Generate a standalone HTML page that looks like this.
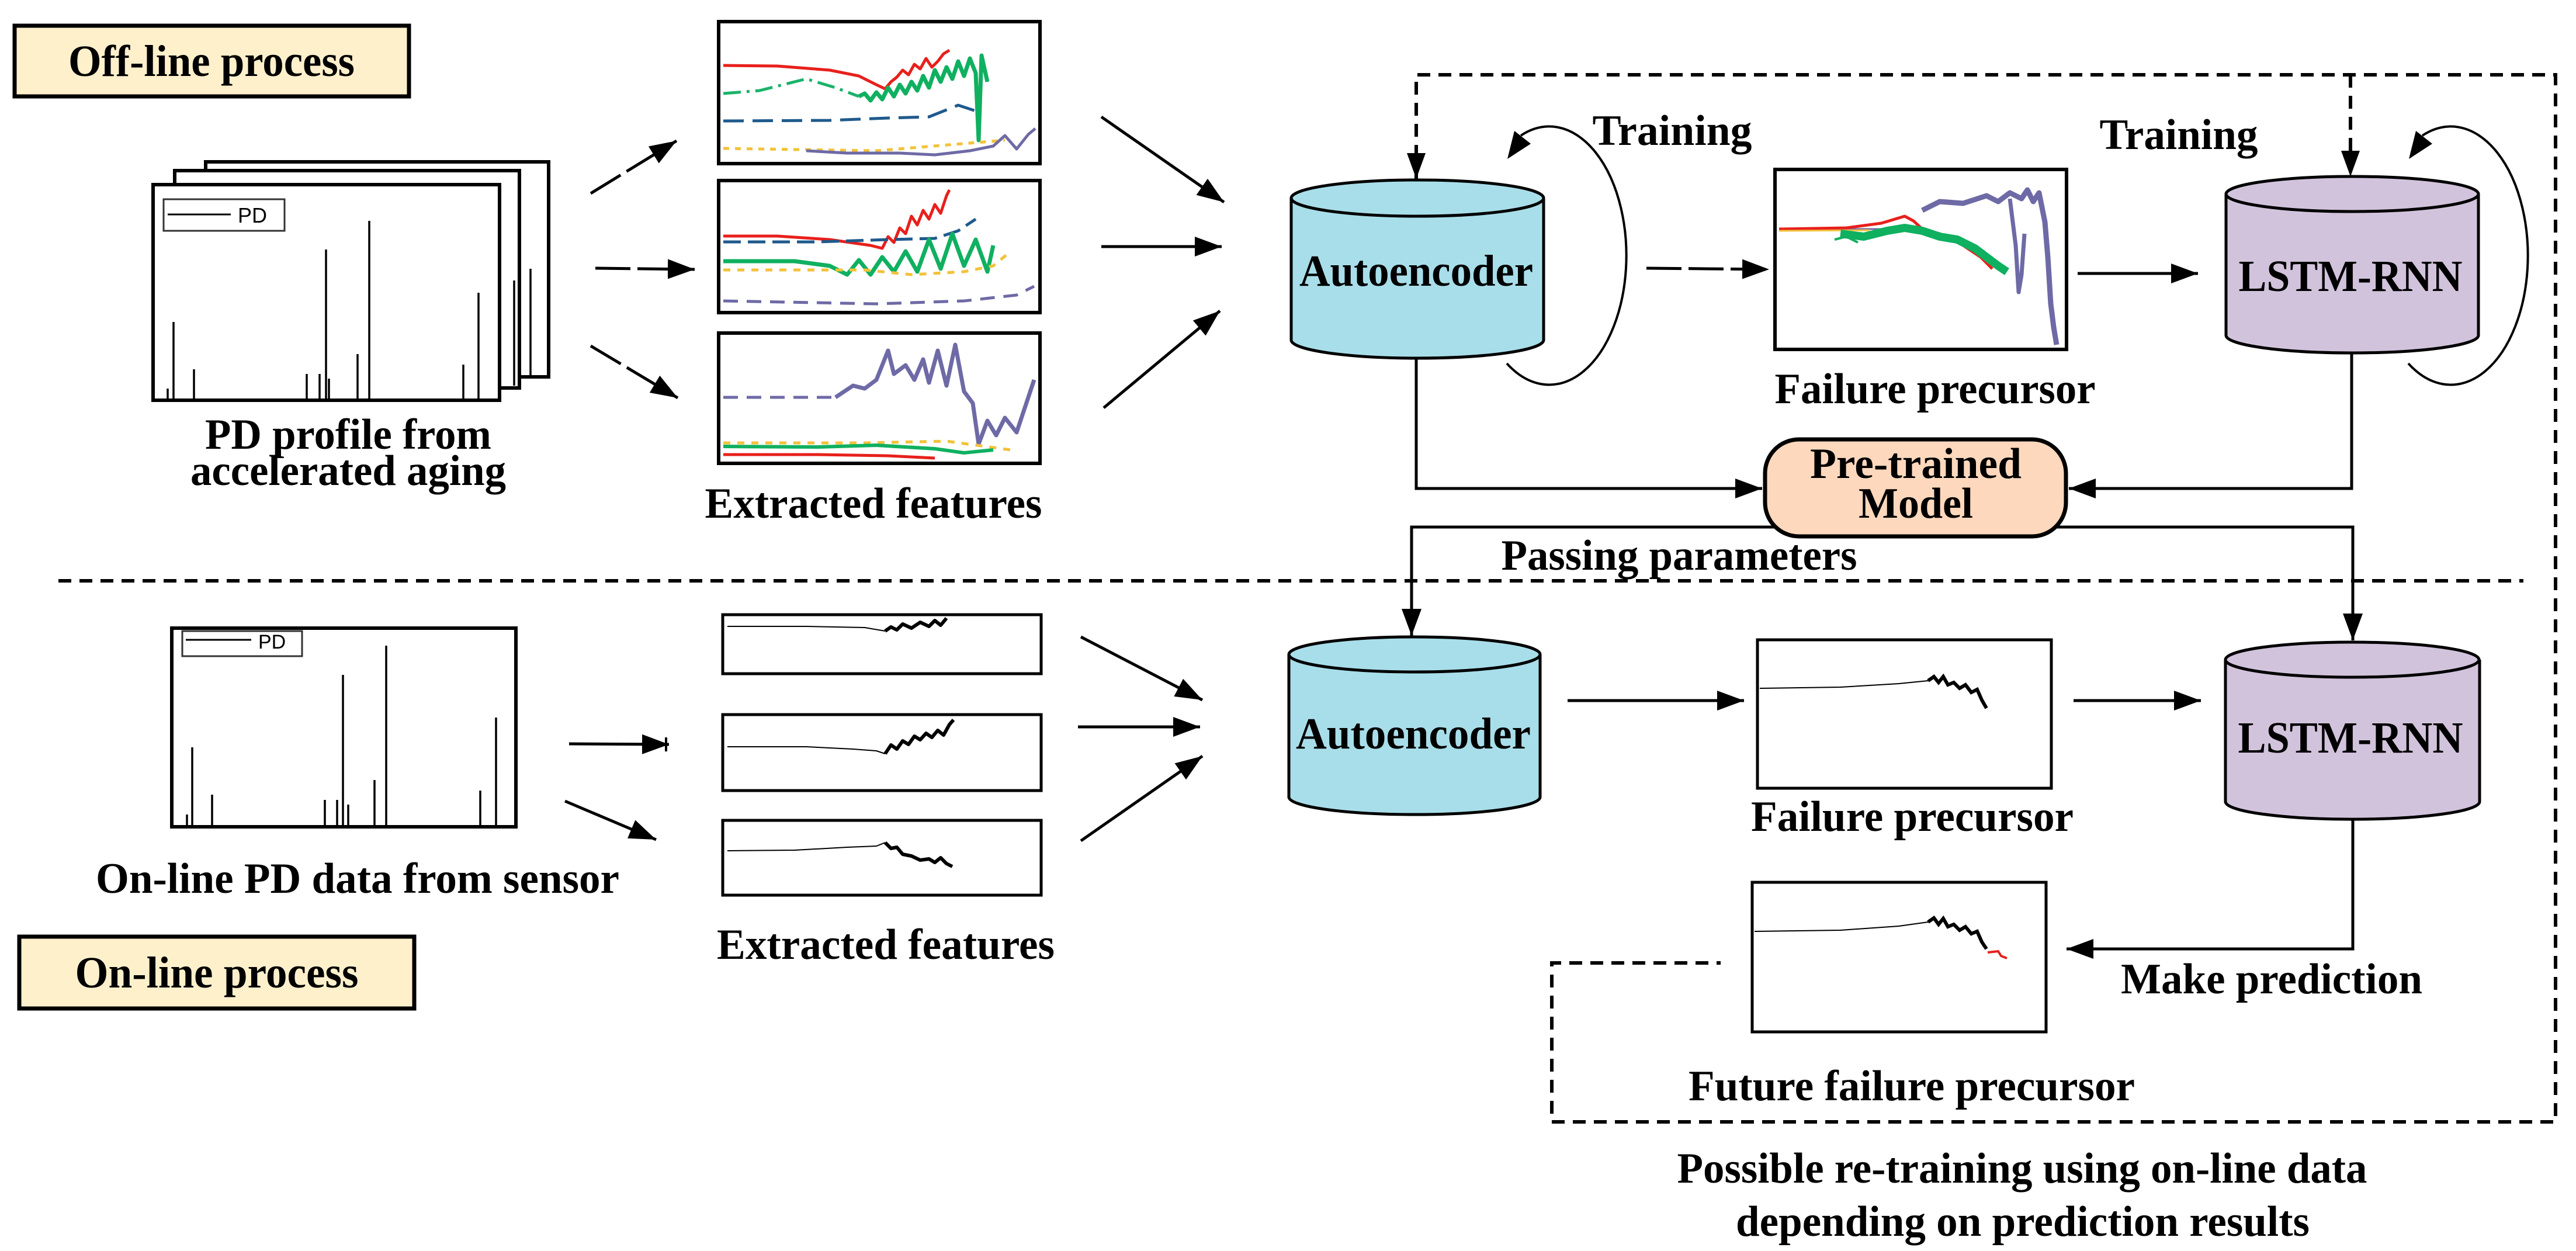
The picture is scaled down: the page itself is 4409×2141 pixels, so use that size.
<!DOCTYPE html>
<html><head><meta charset="utf-8"><style>
html,body{margin:0;padding:0;background:#fff;}
svg{display:block;}
text{font-family:"Liberation Serif",serif;font-weight:bold;fill:#000;}
</style></head><body>
<svg width="4409" height="2141" viewBox="0 0 4409 2141" xmlns="http://www.w3.org/2000/svg">
<defs>
<marker id="ah" markerUnits="userSpaceOnUse" markerWidth="50" markerHeight="40" refX="46" refY="17" orient="auto">
<path d="M0,0 L46,17 L0,34 Z" fill="#000"/></marker>
</defs>
<rect width="4409" height="2141" fill="#fff"/>

<!-- Off-line box -->
<rect x="25" y="44" width="675" height="121" fill="#fff0cc" stroke="#000" stroke-width="7"/>
<text x="362" y="130" font-size="76" text-anchor="middle" textLength="490" lengthAdjust="spacingAndGlyphs">Off-line process</text>

<!-- PD stack -->
<g fill="#fff" stroke="#000" stroke-width="6">
<rect x="352" y="277" width="587" height="368"/>
<rect x="299" y="292" width="590" height="372"/>
<rect x="262" y="316" width="593" height="369"/>
</g>
<rect x="280" y="341" width="207" height="54" fill="none" stroke="#333" stroke-width="3"/>
<line x1="287" y1="367" x2="395" y2="367" stroke="#000" stroke-width="3"/>
<text x="407" y="381" font-size="36" style="font-family:'Liberation Sans',sans-serif;font-weight:normal" fill="#222">PD</text>
<g stroke="#000" stroke-width="3.5">
<line x1="287" y1="682" x2="287" y2="665"/><line x1="297" y1="682" x2="297" y2="551"/><line x1="332" y1="682" x2="332" y2="632"/>
<line x1="525" y1="682" x2="525" y2="640"/><line x1="547" y1="682" x2="547" y2="640"/><line x1="558" y1="682" x2="558" y2="427"/>
<line x1="563" y1="682" x2="563" y2="648"/><line x1="612" y1="682" x2="612" y2="606"/><line x1="632" y1="682" x2="632" y2="378"/>
<line x1="793" y1="682" x2="793" y2="624"/><line x1="819" y1="682" x2="819" y2="501"/>
<line x1="908" y1="645" x2="908" y2="460"/><line x1="880" y1="660" x2="880" y2="480"/>
</g>
<text x="596" y="768" font-size="74" text-anchor="middle" textLength="490" lengthAdjust="spacingAndGlyphs">PD profile from</text>
<text x="596" y="830" font-size="74" text-anchor="middle" textLength="540" lengthAdjust="spacingAndGlyphs">accelerated aging</text>

<!-- arrows PD -> features (dashed) -->
<g stroke="#000" stroke-width="5" fill="none" marker-end="url(#ah)" stroke-dasharray="60 12">
<line x1="1011" y1="331" x2="1158" y2="241"/>
<line x1="1019" y1="459" x2="1189" y2="461"/>
<line x1="1011" y1="592" x2="1160" y2="681"/>
</g>

<!-- feature boxes top -->
<g fill="#fff" stroke="#000" stroke-width="6">
<rect x="1230" y="37" width="550" height="243"/>
<rect x="1230" y="309" width="550" height="226"/>
<rect x="1230" y="570" width="550" height="223"/>
</g>
<g fill="none" stroke-width="5" stroke-linejoin="round">
<!-- box1 -->
<polyline stroke="#e8201c" points="1238,112 1330,113 1420,120 1470,130 1500,145 1515,152 1525,140 1535,132 1545,120 1555,128 1565,110 1575,118 1585,100 1595,115 1605,105 1615,92 1625,86"/>
<polyline stroke="#1ab36a" stroke-dasharray="30 10 5 10" points="1238,160 1300,155 1380,135 1430,150 1470,165"/>
<polyline stroke="#0fb060" stroke-width="7" points="1470,165 1480,160 1490,172 1500,158 1510,170 1520,150 1530,165 1540,145 1550,160 1560,140 1570,155 1580,130 1590,150 1600,120 1610,140 1620,115 1630,135 1640,105 1650,130 1660,100 1670,125 1675,240 1680,95 1690,140"/>
<polyline stroke="#1f5a8c" stroke-dasharray="35 15" points="1238,207 1420,206 1520,202 1590,200 1640,180 1670,190"/>
<polyline stroke="#f2c23a" stroke-dasharray="10 10" points="1238,254 1500,258 1720,240"/>
<polyline stroke="#6e6aa6" points="1380,258 1450,262 1540,262 1600,265 1660,258 1700,250 1720,232 1740,255 1760,230 1772,220"/>
<!-- box2 -->
<polyline stroke="#e8201c" points="1238,404 1330,404 1420,410 1490,420 1510,425 1520,405 1530,415 1540,390 1550,400 1560,370 1570,385 1580,360 1590,375 1600,350 1610,365 1620,335 1625,325"/>
<polyline stroke="#1f5a8c" stroke-dasharray="30 12" points="1238,414 1400,414 1520,410 1600,408 1640,395 1670,375"/>
<polyline stroke="#0fb060" stroke-width="7" points="1238,447 1360,447 1420,455 1450,470 1470,445 1490,470 1510,440 1530,465 1550,430 1570,465 1590,410 1610,460 1630,400 1650,455 1670,410 1690,465 1700,420"/>
<polyline stroke="#f2c23a" stroke-dasharray="12 12" points="1238,462 1480,462 1560,470 1650,465 1700,455 1730,430"/>
<polyline stroke="#6e6aa6" stroke-dasharray="25 15" points="1238,515 1500,520 1650,515 1740,505 1770,490"/>
<!-- box3 -->
<polyline stroke="#6e6aa6" stroke-dasharray="25 15" points="1238,680 1430,680"/>
<polyline stroke="#6e6aa6" stroke-width="7" points="1430,680 1460,660 1480,665 1500,650 1520,600 1530,640 1550,625 1565,650 1580,615 1590,655 1605,600 1620,660 1635,590 1650,670 1665,690 1675,760 1690,720 1705,745 1720,715 1740,740 1760,680 1770,650"/>
<polyline stroke="#f2c23a" stroke-dasharray="12 12" points="1238,758 1480,758 1620,755 1730,770"/>
<polyline stroke="#0fb060" stroke-width="6" points="1238,764 1400,765 1500,762 1600,768 1650,775 1700,770"/>
<polyline stroke="#e8201c" points="1238,778 1400,778 1520,780 1600,784"/>
</g>
<text x="1495" y="886" font-size="74" text-anchor="middle" textLength="577" lengthAdjust="spacingAndGlyphs">Extracted features</text>

<!-- features -> AE -->
<g stroke="#000" stroke-width="5" fill="none" marker-end="url(#ah)">
<line x1="1885" y1="200" x2="2095" y2="346"/>
<line x1="1885" y1="422" x2="2091" y2="422"/>
<line x1="1889" y1="698" x2="2088" y2="532"/>
</g>

<!-- top dashed feedback -->
<g stroke="#000" stroke-width="6" fill="none" stroke-dasharray="22 14">
<polyline points="2424,306 2424,128 4374,128 4374,1920 2656,1920 2656,1648 2945,1648"/>
<line x1="4023" y1="128" x2="4023" y2="300"/>
<line x1="100" y1="994" x2="4319" y2="994"/>
</g>
<path d="M2408,262 L2424,306 L2440,262 Z"/>
<path d="M4007,258 L4023,302 L4039,258 Z"/>

<!-- AE top cylinder -->
<g stroke="#000" stroke-width="5">
<path d="M2210,339 L2210,582 A216,31 0 0 0 2642,582 L2642,339" fill="#a8dee9"/>
<ellipse cx="2426" cy="339" rx="216" ry="31" fill="#a8dee9"/>
</g>
<text x="2424" y="489" font-size="76" text-anchor="middle" textLength="400" lengthAdjust="spacingAndGlyphs">Autoencoder</text>

<!-- AE loop -->
<path d="M2579,622 A132,221 0 1 0 2603,232" fill="none" stroke="#000" stroke-width="4"/>
<path d="M2580,272 L2592,224 L2620,246 Z"/>
<text x="2862" y="248" font-size="74" text-anchor="middle" textLength="273" lengthAdjust="spacingAndGlyphs">Training</text>

<!-- AE -> failure precursor dashed -->
<line x1="2818" y1="459" x2="3028" y2="461" stroke="#000" stroke-width="5" stroke-dasharray="60 12" marker-end="url(#ah)"/>

<!-- failure precursor plot top -->
<rect x="3038" y="290" width="499" height="308" fill="#fff" stroke="#000" stroke-width="6"/>
<g fill="none" stroke-linejoin="round">
<polyline stroke="#6e6aa6" stroke-width="9" points="3290,360 3320,345 3360,348 3400,335 3420,345 3440,330 3460,340 3470,325 3480,345 3490,330 3500,380 3505,440 3510,520 3515,560 3520,590"/>
<polyline stroke="#6e6aa6" stroke-width="7" points="3440,340 3450,420 3455,500 3460,470 3465,400"/>
<polyline stroke="#6e6aa6" stroke-width="3" points="3045,392 3250,392"/>
<polyline stroke="#e8201c" stroke-width="5" points="3045,392 3160,390 3220,382 3260,370 3275,378 3290,392 3320,400 3360,420 3390,440 3410,460"/>
<polyline stroke="#f2c23a" stroke-width="3" points="3045,395 3200,394"/>
<polyline stroke="#0fb060" stroke-width="14" points="3150,400 3190,405 3230,395 3260,390 3290,395 3320,405 3350,410 3380,425 3400,440 3420,455 3435,465"/>
<polyline stroke="#0fb060" stroke-width="4" points="3140,410 3160,405 3180,415"/>
</g>
<text x="3312" y="690" font-size="74" text-anchor="middle" textLength="549" lengthAdjust="spacingAndGlyphs">Failure precursor</text>

<!-- FP -> LSTM -->
<line x1="3556" y1="468" x2="3762" y2="468" stroke="#000" stroke-width="5" marker-end="url(#ah)"/>

<!-- LSTM top cylinder -->
<g stroke="#000" stroke-width="5">
<path d="M3810,332 L3810,574 A216,30 0 0 0 4242,574 L4242,332" fill="#d2c3dc"/>
<ellipse cx="4026" cy="332" rx="216" ry="30" fill="#d2c3dc"/>
</g>
<text x="4023" y="498" font-size="76" text-anchor="middle" textLength="383" lengthAdjust="spacingAndGlyphs">LSTM-RNN</text>
<path d="M4122,622 A132,221 0 1 0 4146,232" fill="none" stroke="#000" stroke-width="4"/>
<path d="M4123,272 L4135,224 L4163,246 Z"/>
<text x="3729" y="255" font-size="74" text-anchor="middle" textLength="271" lengthAdjust="spacingAndGlyphs">Training</text>

<!-- to Pre-trained -->
<g stroke="#000" stroke-width="5" fill="none">
<polyline points="2424,612 2424,836 3016,836" marker-end="url(#ah)"/>
<polyline points="4025,604 4025,836 3541,836" marker-end="url(#ah)"/>
<polyline points="3060,902 2416,902 2416,1088" marker-end="url(#ah)"/>
<polyline points="3500,902 4027,902 4027,1096" marker-end="url(#ah)"/>
</g>
<rect x="3021" y="752" width="515" height="166" rx="58" fill="#fdd8bd" stroke="#000" stroke-width="7"/>
<text x="3279" y="818" font-size="74" text-anchor="middle" textLength="362" lengthAdjust="spacingAndGlyphs">Pre-trained</text>
<text x="3279" y="886" font-size="74" text-anchor="middle" textLength="196" lengthAdjust="spacingAndGlyphs">Model</text>
<text x="2874" y="975" font-size="74" text-anchor="middle" textLength="609" lengthAdjust="spacingAndGlyphs">Passing parameters</text>

<!-- On-line PD -->
<rect x="294" y="1075" width="589" height="340" fill="#fff" stroke="#000" stroke-width="6"/>
<rect x="312" y="1080" width="205" height="43" fill="none" stroke="#333" stroke-width="3"/>
<line x1="318" y1="1095" x2="430" y2="1095" stroke="#000" stroke-width="3"/>
<text x="442" y="1110" font-size="34" style="font-family:'Liberation Sans',sans-serif;font-weight:normal" fill="#222">PD</text>
<g stroke="#000" stroke-width="3.5">
<line x1="320" y1="1412" x2="320" y2="1394"/><line x1="329" y1="1412" x2="329" y2="1279"/><line x1="363" y1="1412" x2="363" y2="1360"/>
<line x1="556" y1="1412" x2="556" y2="1369"/><line x1="577" y1="1412" x2="577" y2="1369"/><line x1="587" y1="1412" x2="587" y2="1155"/>
<line x1="596" y1="1412" x2="596" y2="1377"/><line x1="641" y1="1412" x2="641" y2="1335"/><line x1="661" y1="1412" x2="661" y2="1105"/>
<line x1="822" y1="1412" x2="822" y2="1353"/><line x1="849" y1="1412" x2="849" y2="1228"/>
</g>
<text x="612" y="1528" font-size="74" text-anchor="middle" textLength="896" lengthAdjust="spacingAndGlyphs">On-line PD data from sensor</text>
<rect x="33" y="1603" width="676" height="123" fill="#fff0cc" stroke="#000" stroke-width="7"/>
<text x="371" y="1690" font-size="76" text-anchor="middle" textLength="485" lengthAdjust="spacingAndGlyphs">On-line process</text>

<g stroke="#000" stroke-width="5" fill="none" marker-end="url(#ah)">
<line x1="974" y1="1273" x2="1145" y2="1274"/>
<line x1="967" y1="1371" x2="1123" y2="1437"/>
</g>
<line x1="1140" y1="1262" x2="1140" y2="1286" stroke="#000" stroke-width="4"/>

<!-- lower feature boxes -->
<g fill="#fff" stroke="#000" stroke-width="5">
<rect x="1237" y="1052" width="545" height="101"/>
<rect x="1237" y="1223" width="545" height="130"/>
<rect x="1237" y="1404" width="545" height="128"/>
</g>
<g fill="none" stroke="#000" stroke-linejoin="round">
<polyline stroke-width="2" points="1245,1072 1380,1072 1480,1074 1515,1080"/>
<polyline stroke-width="6" points="1515,1080 1525,1073 1535,1078 1545,1068 1560,1075 1575,1065 1590,1072 1600,1062 1610,1070 1620,1058"/>
<polyline stroke-width="2" points="1245,1278 1380,1278 1460,1282 1500,1285 1515,1290"/>
<polyline stroke-width="6" points="1515,1290 1525,1275 1535,1282 1545,1268 1555,1274 1565,1260 1575,1266 1585,1255 1595,1262 1605,1250 1615,1258 1625,1240 1632,1232"/>
<polyline stroke-width="2" points="1245,1456 1360,1455 1450,1450 1500,1448 1515,1442"/>
<polyline stroke-width="6" points="1515,1442 1525,1452 1535,1450 1545,1462 1560,1465 1575,1472 1590,1470 1600,1476 1610,1468 1620,1478 1630,1483"/>
</g>
<text x="1516" y="1641" font-size="74" text-anchor="middle" textLength="578" lengthAdjust="spacingAndGlyphs">Extracted features</text>
<g stroke="#000" stroke-width="5" fill="none" marker-end="url(#ah)">
<line x1="1850" y1="1090" x2="2058" y2="1198"/>
<line x1="1845" y1="1244" x2="2054" y2="1244"/>
<line x1="1850" y1="1439" x2="2058" y2="1294"/>
</g>

<!-- lower AE -->
<g stroke="#000" stroke-width="5">
<path d="M2206,1120 L2206,1364 A215,30 0 0 0 2636,1364 L2636,1120" fill="#a8dee9"/>
<ellipse cx="2421" cy="1120" rx="215" ry="30" fill="#a8dee9"/>
</g>
<text x="2419" y="1281" font-size="76" text-anchor="middle" textLength="402" lengthAdjust="spacingAndGlyphs">Autoencoder</text>
<line x1="2683" y1="1199" x2="2985" y2="1199" stroke="#000" stroke-width="5" marker-end="url(#ah)"/>

<!-- lower FP -->
<rect x="3008" y="1095" width="503" height="254" fill="#fff" stroke="#000" stroke-width="5"/>
<polyline fill="none" stroke="#000" stroke-width="2" points="3012,1178 3150,1176 3250,1170 3300,1165"/>
<polyline fill="none" stroke="#000" stroke-width="6" points="3300,1165 3310,1158 3318,1168 3326,1158 3334,1172 3344,1168 3354,1178 3364,1172 3374,1185 3384,1180 3392,1198 3400,1212"/>
<text x="3273" y="1422" font-size="74" text-anchor="middle" textLength="552" lengthAdjust="spacingAndGlyphs">Failure precursor</text>
<line x1="3549" y1="1199" x2="3767" y2="1199" stroke="#000" stroke-width="5" marker-end="url(#ah)"/>

<!-- lower LSTM -->
<g stroke="#000" stroke-width="5">
<path d="M3809,1129 L3809,1372 A217,30 0 0 0 4244,1372 L4244,1129" fill="#d2c3dc"/>
<ellipse cx="4026" cy="1129" rx="217" ry="30" fill="#d2c3dc"/>
</g>
<text x="4023" y="1288" font-size="76" text-anchor="middle" textLength="385" lengthAdjust="spacingAndGlyphs">LSTM-RNN</text>
<polyline points="4027,1401 4027,1624 3537,1624" fill="none" stroke="#000" stroke-width="5" marker-end="url(#ah)"/>
<text x="3888" y="1700" font-size="74" text-anchor="middle" textLength="516" lengthAdjust="spacingAndGlyphs">Make prediction</text>

<!-- future plot -->
<rect x="2999" y="1510" width="503" height="256" fill="#fff" stroke="#000" stroke-width="5"/>
<polyline fill="none" stroke="#000" stroke-width="2" points="3003,1594 3150,1592 3250,1585 3300,1578"/>
<polyline fill="none" stroke="#000" stroke-width="6" points="3300,1578 3310,1571 3318,1582 3326,1572 3334,1586 3344,1582 3354,1592 3364,1586 3374,1598 3384,1594 3392,1612 3400,1624"/>
<polyline fill="none" stroke="#e8201c" stroke-width="4" points="3402,1630 3420,1628 3425,1636 3435,1640"/>
<text x="3272" y="1883" font-size="74" text-anchor="middle" textLength="764" lengthAdjust="spacingAndGlyphs">Future failure precursor</text>

<text x="3461" y="2024" font-size="74" text-anchor="middle" textLength="1181" lengthAdjust="spacingAndGlyphs">Possible re-training using on-line data</text>
<text x="3462" y="2115" font-size="74" text-anchor="middle" textLength="982" lengthAdjust="spacingAndGlyphs">depending on prediction results</text>
</svg>
</body></html>
